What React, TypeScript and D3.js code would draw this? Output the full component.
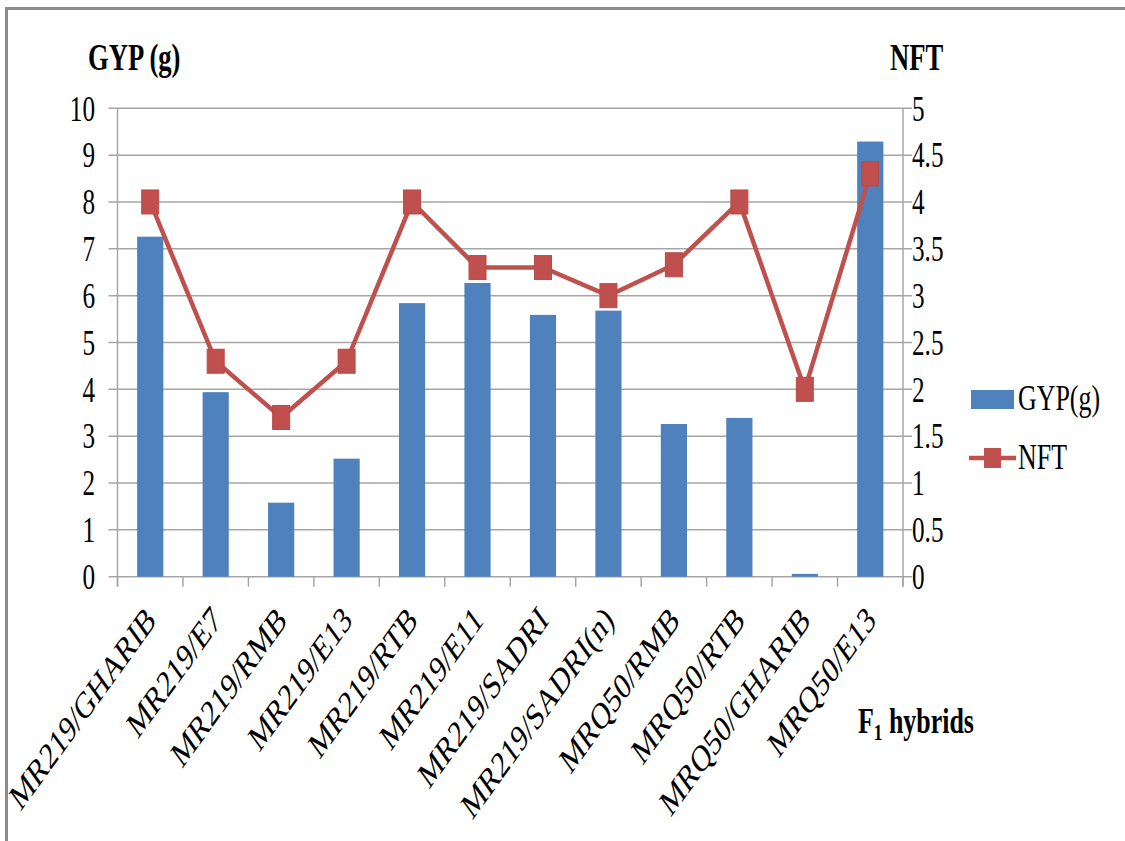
import React from "react";
import * as d3 from "d3";

// F1 hybrids and their measured traits
const hybrids: string[] = [
  "MR219/GHARIB",
  "MR219/E7",
  "MR219/RMB",
  "MR219/E13",
  "MR219/RTB",
  "MR219/E11",
  "MR219/SADRI",
  "MR219/SADRI(n)",
  "MRQ50/RMB",
  "MRQ50/RTB",
  "MRQ50/GHARIB",
  "MRQ50/E13",
];

// Grain yield per plant (g), left axis
const gyp: number[] = [7.26, 3.94, 1.58, 2.52, 5.84, 6.27, 5.59, 5.68, 3.26, 3.39, 0.06, 9.29];

// Number of fertile tillers, right axis
const nft: number[] = [4.0, 2.3, 1.7, 2.3, 4.0, 3.3, 3.3, 3.0, 3.33, 4.0, 2.0, 4.3];

const leftTicks: number[] = [0, 1, 2, 3, 4, 5, 6, 7, 8, 9, 10];
const rightTicks: number[] = [0, 0.5, 1, 1.5, 2, 2.5, 3, 3.5, 4, 4.5, 5];

const W = 1125;
const H = 841;
const plot = { left: 117.5, right: 903, top: 108.3, bottom: 576.7 };

const BAR = "#4F81BD";
const LINE = "#C0504D";
const GRID = "#A6A6A6";
const FONT = "Liberation Serif, Tinos, Times New Roman, DejaVu Serif, serif";
const SX = 0.72; // condensed type

const x = d3
  .scaleBand<string>()
  .domain(hybrids)
  .range([plot.left, plot.right])
  .paddingInner(0.6)
  .paddingOuter(0.3);
const step = x.step();
const center = (c: string) => (x(c) as number) + x.bandwidth() / 2;

const yL = d3.scaleLinear().domain([0, 10]).range([plot.bottom, plot.top]);
const yR = d3.scaleLinear().domain([0, 5]).range([plot.bottom, plot.top]);

const linePath = d3
  .line<number>()
  .x((_, i) => center(hybrids[i]))
  .y((d) => yR(d))(nft) as string;

function T(props: {
  x: number;
  y: number;
  size: number;
  anchor?: string;
  bold?: boolean;
  rotate?: number;
  dy?: string;
  children: React.ReactNode;
}) {
  const { x: tx, y: ty, size, anchor = "start", bold = false, rotate = 0, dy, children } = props;
  return (
    <text
      transform={`translate(${tx},${ty}) scale(${SX},1)${rotate ? ` rotate(${rotate})` : ""}`}
      style={{ fontFamily: FONT }}
      fontSize={size}
      fontWeight={bold ? "bold" : "normal"}
      textAnchor={anchor}
      dy={dy}
      fill="#000"
    >
      {children}
    </text>
  );
}

export default function App() {
  const boundaries = d3.range(hybrids.length + 1).map((i) => plot.left + i * step);
  const markerW = 17;
  const markerH = 24;
  return (
    <svg
      width={W}
      height={H}
      style={{ position: "absolute", left: 0, top: 0, background: "#fff" }}
    >
      {/* frame */}
      <rect x={6.5} y={8.5} width={1140} height={860} fill="none" stroke="#8C8C8C" strokeWidth={3} />

      {/* horizontal gridlines with outer ticks on both sides */}
      {leftTicks.map((t) => (
        <line
          key={`g${t}`}
          x1={plot.left - 9}
          x2={plot.right + 9}
          y1={yL(t)}
          y2={yL(t)}
          stroke={GRID}
          strokeWidth={1.5}
        />
      ))}

      {/* axes */}
      <line x1={plot.left} x2={plot.left} y1={plot.top} y2={plot.bottom + 10} stroke={GRID} strokeWidth={1.5} />
      <line x1={plot.right} x2={plot.right} y1={plot.top} y2={plot.bottom + 10} stroke={GRID} strokeWidth={1.5} />
      {boundaries.map((bx, i) => (
        <line key={`c${i}`} x1={bx} x2={bx} y1={plot.bottom} y2={plot.bottom + 10} stroke={GRID} strokeWidth={1.5} />
      ))}

      {/* GYP bars */}
      {hybrids.map((c, i) => (
        <rect
          key={`b${c}`}
          x={x(c)}
          y={yL(gyp[i])}
          width={x.bandwidth()}
          height={plot.bottom - yL(gyp[i])}
          fill={BAR}
        />
      ))}

      {/* NFT line */}
      <path d={linePath} fill="none" stroke={LINE} strokeWidth={4.5} strokeLinejoin="round" />
      {hybrids.map((c, i) => (
        <rect
          key={`m${c}`}
          x={center(c) - markerW / 2}
          y={yR(nft[i]) - markerH / 2}
          width={markerW}
          height={markerH}
          fill={LINE}
          stroke="#B94A47"
          strokeWidth={1}
        />
      ))}

      {/* left tick labels */}
      {leftTicks.map((t) => (
        <T key={`l${t}`} x={95} y={yL(t)} size={35} anchor="end" dy="0.35em">
          {String(t)}
        </T>
      ))}
      {/* right tick labels */}
      {rightTicks.map((t) => (
        <T key={`r${t}`} x={912} y={yR(t)} size={35} dy="0.35em">
          {String(t)}
        </T>
      ))}

      {/* category labels */}
      {hybrids.map((c) => (
        <T key={`x${c}`} x={center(c) + 7} y={622} size={37.5} anchor="end" rotate={-45}>
          {c}
        </T>
      ))}

      {/* axis titles */}
      <T x={88} y={70} size={37} bold>
        GYP (g)
      </T>
      <T x={890} y={70} size={37} bold>
        NFT
      </T>
      <T x={858} y={733} size={36} bold>
        F
        <tspan fontSize={24} dy={7}>
          1
        </tspan>
        <tspan dy={-7}> hybrids</tspan>
      </T>

      {/* legend */}
      <rect x={971} y={390} width={43} height={19} fill={BAR} />
      <T x={1018} y={410} size={36}>
        GYP(g)
      </T>
      <line x1={969} x2={1016} y1={458} y2={458} stroke={LINE} strokeWidth={4.5} />
      <rect x={984} y={448} width={17} height={20} fill={LINE} />
      <T x={1018} y={469} size={36}>
        NFT
      </T>
    </svg>
  );
}
